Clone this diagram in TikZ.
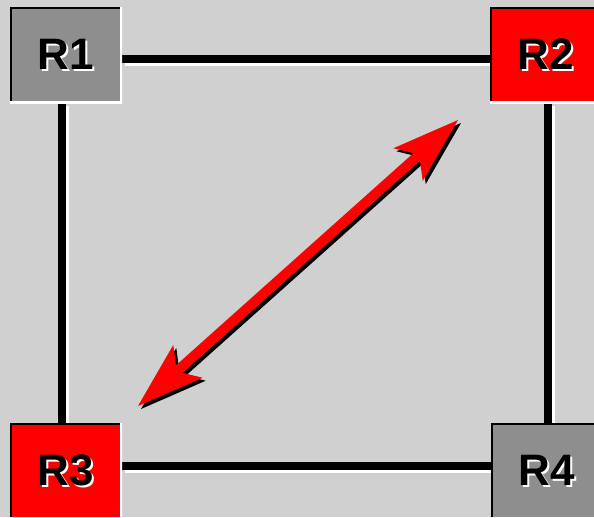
\documentclass[tikz,border=0pt]{standalone}
\usepackage{fontspec}
\setmainfont{Liberation Sans}
\usetikzlibrary{arrows.meta}
\definecolor{bggray}{RGB}{208,208,208}
\definecolor{boxgray}{RGB}{142,142,142}
\newcommand\shtext[1]{\makebox[0pt][l]{\hspace{2pt}\raisebox{-2pt}{\color{white}#1}}#1}
\pgfdeclarelayer{bg}
\pgfsetlayers{bg,main}
\tikzset{
  router/.style={rectangle, inner sep=0pt, minimum width=112pt, minimum height=96pt,
    font=\fontsize{44}{44}\selectfont\bfseries, text=black,
    path picture={
      \draw[black,line width=4pt] (path picture bounding box.south west) -- (path picture bounding box.north west) -- (path picture bounding box.north east);
      \draw[white,line width=5pt] (path picture bounding box.north east) -- (path picture bounding box.south east) -- (path picture bounding box.south west);
    }},
  grayrouter/.style={router, fill=boxgray},
  redrouter/.style={router, fill=red},
  linkshadow/.style={white, line width=8pt},
  link/.style={black, line width=8pt},
  tipshape/.style={{Stealth[length=67pt,width=44pt,inset=15pt,line width=0pt]}-{Stealth[length=67pt,width=44pt,inset=15pt,line width=0pt]}},
}
\begin{document}
\begin{tikzpicture}[x=1pt,y=-1pt]
\useasboundingbox (0,0) rectangle (594,517);
\node[grayrouter] (R1) at (66,55) {\shtext{R1}};
\node[redrouter] (R2) at (546,55) {\shtext{R2}};
\node[redrouter] (R3) at (66,471) {\shtext{R3}};
\node[grayrouter] (R4) at (547,471) {\shtext{R4}};
\coordinate (T) at (138,406);
\coordinate (H) at (458,120);
\begin{pgfonlayer}{bg}
\fill[bggray] (0,0) rectangle (594,517);
% shadows of links
\draw[linkshadow] ([shift={(3,7)}]R1.east) -- ([shift={(3,7)}]R1.east -| R2.west);
\draw[linkshadow] ([shift={(-1,3)}]R1.south) -- ([shift={(-1,3)}]R1.south |- R3.north);
\draw[linkshadow] ([shift={(5,3)}]R2.south) -- ([shift={(5,3)}]R2.south |- R4.north);
\draw[linkshadow] ([shift={(3,-2)}]R3.east) -- ([shift={(3,-2)}]R3.east -| R4.west);
% links
\draw[link] ([shift={(0,4)}]R1.east) -- ([shift={(0,4)}]R1.east -| R2.west);
\draw[link] ([shift={(-4,0)}]R1.south) -- ([shift={(-4,0)}]R1.south |- R3.north);
\draw[link] ([shift={(2,0)}]R2.south) -- ([shift={(2,0)}]R2.south |- R4.north);
\draw[link] ([shift={(0,-5)}]R3.east) -- ([shift={(0,-5)}]R3.east -| R4.west);
\end{pgfonlayer}
% arrow shadow and arrow
\draw[black, line width=10pt, tipshape] ([shift={(3,3)}]T) -- ([shift={(3,3)}]H);
\draw[red, line width=10pt, tipshape] (T) -- (H);
\end{tikzpicture}
\end{document}
